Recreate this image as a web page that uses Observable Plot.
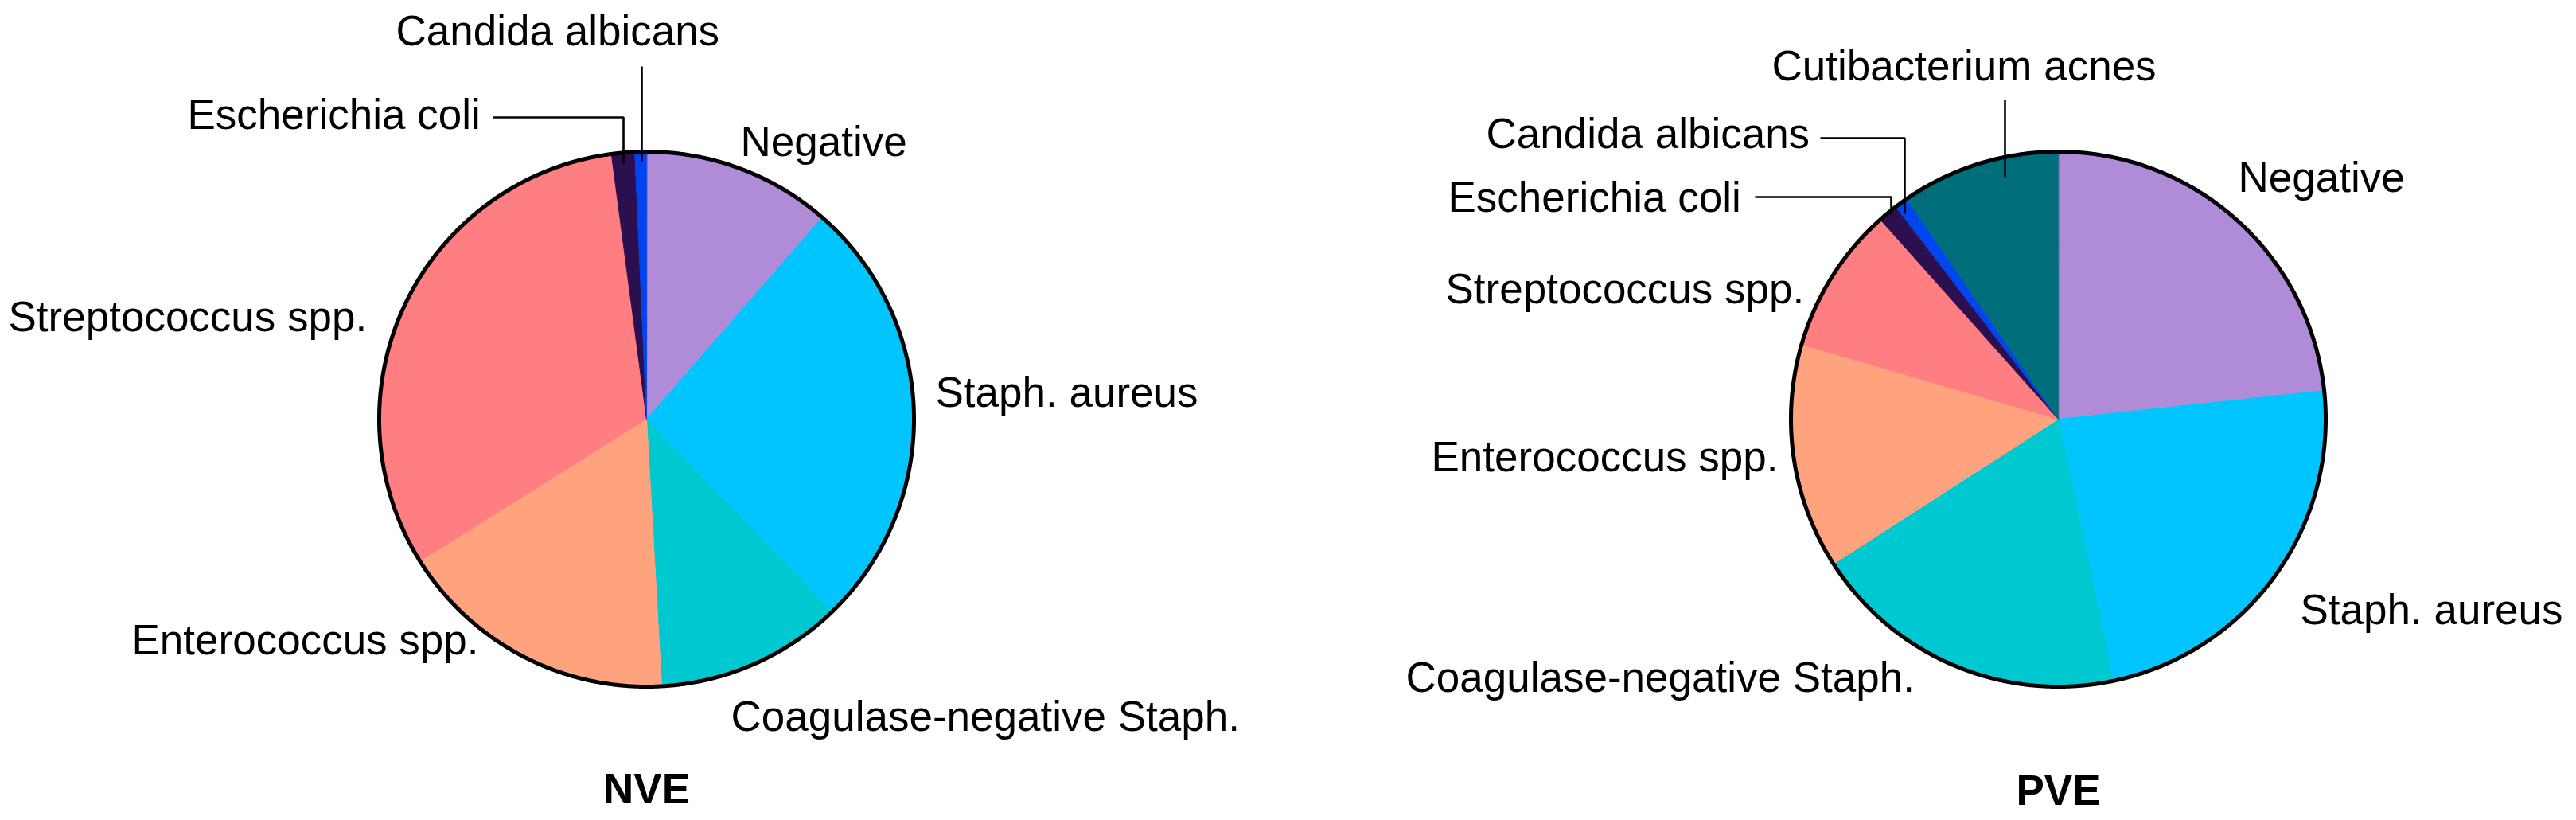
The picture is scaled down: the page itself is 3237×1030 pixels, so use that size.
<!DOCTYPE html>
<html>
<head>
<meta charset="utf-8">
<script src="https://cdn.jsdelivr.net/npm/d3@7"></script>
<script src="https://cdn.jsdelivr.net/npm/@observablehq/plot@0.6"></script>
<style>
  html, body { margin: 0; padding: 0; background: #fff; }
  #chart svg { display: block; }
</style>
</head>
<body>
<div id="chart"></div>
<script>
// ---- Data ----
const categories = ["Negative", "Staph. aureus", "Coagulase-negative Staph.", "Enterococcus spp.",
  "Streptococcus spp.", "Escherichia coli", "Candida albicans", "Cutibacterium acnes"];
const nveValues = [11.4, 26.4, 11.3, 17.0, 31.8, 1.4, 0.7, 0];
const pveValues = [23.3, 23.4, 19.2, 13.6, 8.9, 1.2, 0.8, 9.6];
const colors = ["#B08CD8", "#00C5FF", "#00C8D0", "#FFA37E", "#FF7E81", "#2C0F4E", "#0045F0", "#006E7B"];
const groups = ["NVE", "PVE"];

// ---- Layout ----
const W = 3237, H = 1030;
const R = 336;
const pies = [
  {name: "NVE", values: nveValues, cx: 812, cy: 526, titleY: 1008},
  {name: "PVE", values: pveValues, cx: 2586, cy: 526, titleY: 1010}
];
const labelPos = {
  NVE: {
    "Negative": [930, 195],
    "Staph. aureus": [1175, 510],
    "Coagulase-negative Staph.": [918, 917],
    "Enterococcus spp.": [165, 821],
    "Streptococcus spp.": [10, 415],
    "Escherichia coli": [235, 161],
    "Candida albicans": [497, 56]
  },
  PVE: {
    "Negative": [2812, 240],
    "Staph. aureus": [2890, 783],
    "Coagulase-negative Staph.": [1766, 868],
    "Enterococcus spp.": [1798, 591],
    "Streptococcus spp.": [1816, 380],
    "Escherichia coli": [1819, 265],
    "Candida albicans": [1867, 185],
    "Cutibacterium acnes": [2226, 100]
  }
};
const leaders = [
  [[619, 147], [783, 147], [783, 205]],
  [[806, 83], [806, 202]],
  [[2519, 125], [2519, 222]],
  [[2287, 173], [2393, 173], [2393, 268]],
  [[2205, 247], [2376, 247], [2376, 270]]
];

// ---- Build slice polygons from values ----
const marks = [];
const step = Math.PI / 720;
for (const p of pies) {
  const total = d3.sum(p.values);
  let acc = 0;
  p.values.forEach((v, i) => {
    if (v <= 0) return;
    const a0 = acc / total * 2 * Math.PI;
    acc += v;
    const a1 = acc / total * 2 * Math.PI;
    const pts = [{x: p.cx, y: p.cy}];
    const n = Math.max(2, Math.ceil((a1 - a0) / step));
    for (let k = 0; k <= n; k++) {
      const a = a0 + (a1 - a0) * k / n;
      pts.push({x: p.cx + R * Math.sin(a), y: p.cy - R * Math.cos(a)});
    }
    marks.push(Plot.line(pts, {x: "x", y: "y", fill: colors[i], stroke: colors[i], strokeWidth: 1, curve: "linear-closed"}));
  });
  const circle = d3.range(0, 1441).map(k => {
    const a = k / 1440 * 2 * Math.PI;
    return {x: p.cx + R * Math.sin(a), y: p.cy - R * Math.cos(a)};
  });
  marks.push(Plot.line(circle, {x: "x", y: "y", stroke: "#000", strokeWidth: 5, fill: "none", curve: "linear-closed"}));
}

for (const l of leaders) {
  marks.push(Plot.line(l.map(([x, y]) => ({x, y})), {x: "x", y: "y", stroke: "#000", strokeWidth: 2.6, strokeLinecap: "butt", strokeLinejoin: "miter"}));
}

const labels = [];
for (const p of pies) {
  p.values.forEach((v, i) => {
    if (v <= 0) return;
    const pos = labelPos[p.name][categories[i]];
    labels.push({text: categories[i], x: pos[0], y: pos[1]});
  });
}
marks.push(Plot.text(labels, {x: "x", y: "y", text: "text", textAnchor: "start", lineAnchor: "bottom", fontSize: 53, fill: "#000"}));
marks.push(Plot.text(pies, {x: "cx", y: "titleY", text: "name", textAnchor: "middle", lineAnchor: "bottom", fontSize: 53, fontWeight: "bold", fill: "#000"}));

const chart = Plot.plot({
  width: W,
  height: H,
  margin: 0,
  x: {domain: [0, W], range: [0, W], axis: null},
  y: {domain: [0, H], range: [0, H], axis: null},
  style: {fontFamily: "'Liberation Sans', Arial, Helvetica, sans-serif", background: "#fff", overflow: "visible"},
  marks
});
document.getElementById("chart").appendChild(chart);
</script>
</body>
</html>
